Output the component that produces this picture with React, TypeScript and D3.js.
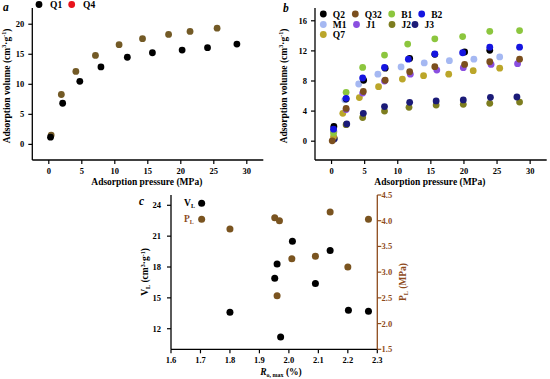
import React from "react";
import * as d3 from "d3";

// ---------- Panel a data ----------
const aQ1P = [0.26, 2.1, 4.7, 7.9, 11.9, 15.7, 20.2, 24.05, 28.5];
const aQ1V = [1.2, 6.85, 10.5, 12.9, 14.5, 15.25, 15.7, 16.1, 16.7];
const aQ4P = [0.36, 1.9, 4.1, 7.07, 10.65, 14.2, 18.15, 21.4, 25.5];
const aQ4V = [1.55, 8.3, 12.15, 14.8, 16.6, 17.6, 18.3, 18.8, 19.35];
const aXTicks = [0, 5, 10, 15, 20, 25, 30];
const aYTicks = [0, 5, 10, 15, 20];

// ---------- Panel b data ----------
const bNames = ["J2", "J3", "Q7", "M1", "J1", "Q32", "B1", "Q2", "B2"];
const bJ2P = [0.4, 2.2, 4.7, 8.0, 11.7, 15.8, 19.9, 23.9, 28.4];
const bJ2V = [0.4, 2.2, 3.15, 4.0, 4.5, 4.8, 4.9, 5.03, 5.2];
const bJ3P = [0.4, 2.3, 4.8, 8.0, 11.8, 15.8, 19.9, 24.0, 28.0];
const bJ3V = [0.3, 2.3, 3.7, 4.6, 5.17, 5.35, 5.48, 5.83, 5.87];
const bQ7P = [0.3, 1.7, 4.2, 7.1, 10.7, 13.9, 17.7, 21.4, 25.4];
const bQ7V = [0.6, 3.7, 5.8, 7.25, 8.26, 8.7, 8.9, 9.37, 9.7];
const bM1P = [0.3, 2.0, 4.1, 7.0, 10.5, 14.0, 17.8, 21.5, 25.4];
const bM1V = [1.75, 5.5, 7.6, 8.9, 9.87, 10.4, 10.7, 10.9, 11.2];
const bJ1P = [0.35, 2.2, 4.7, 8.0, 11.9, 15.9, 19.9, 24.1, 28.1];
const bJ1V = [1.3, 4.2, 6.4, 8.0, 8.9, 9.45, 9.77, 10.2, 10.3];
const bQ32P = [0.1, 2.2, 4.8, 8.1, 11.8, 15.6, 20.1, 23.9, 28.4];
const bQ32V = [0.05, 4.35, 6.6, 8.1, 9.23, 9.9, 10.2, 10.56, 10.9];
const bB1P = [0.3, 2.2, 4.7, 8.0, 11.5, 15.6, 19.8, 23.9, 28.4];
const bB1V = [1.1, 6.5, 9.8, 11.45, 12.9, 13.6, 13.9, 14.6, 14.7];
const bQ2P = [0.35, 2.2, 4.85, 8.1, 11.8, 15.6, 20.1, 23.9];
const bQ2V = [1.95, 5.6, 8.1, 9.7, 11.0, 11.55, 11.85, 12.07];
const bB2P = [0.3, 2.2, 4.7, 8.0, 11.6, 15.6, 19.8, 23.9, 28.4];
const bB2V = [1.6, 5.7, 8.4, 9.8, 10.9, 11.6, 11.75, 12.5, 12.5];
const bXTicks = [0, 5, 10, 15, 20, 25, 30];
const bYTicks = [0, 4, 8, 12, 16];

// ---------- Panel c data ----------
const cRo = [1.704, 1.8, 1.952, 1.96, 1.972, 2.012, 2.09, 2.14, 2.202, 2.27];
const cVL = [24.2, 13.6, 16.9, 18.3, 11.2, 20.5, 16.4, 19.6, 13.8, 13.7];
const cRoP = [1.704, 1.8, 1.952, 1.96, 1.968, 2.01, 2.09, 2.14, 2.2, 2.27];
const cPL = [4.03, 3.84, 4.06, 2.54, 4.0, 3.26, 3.31, 4.17, 3.1, 4.03];
const cXTicks = [1.6, 1.7, 1.8, 1.9, 2.0, 2.1, 2.2, 2.3];
const cYLTicks = [12, 15, 18, 21, 24];
const cYRTicks = [1.5, 2.0, 2.5, 3.0, 3.5, 4.0, 4.5];

const FONT = "'Liberation Serif', 'Times New Roman', serif";
const BROWN_A = "#735a26";
const BROWN_C = "#7a5420";
const AXIS_R = "#8e4b1c";
const TICK_FS = 8.5;
const TITLE_FS = 9.5;
const LEG_FS = 9.5;

const bColors: Record<string, string> = {
  Q2: "#000000",
  Q32: "#7b4f1e",
  B1: "#8cc63e",
  B2: "#1515e0",
  M1: "#a5b8f2",
  J1: "#8a4fe0",
  J2: "#7d7d1f",
  J3: "#1b1b78",
  Q7: "#bba62a",
};
const bSeries: Record<string, [number[], number[]]> = {
  J2: [bJ2P, bJ2V],
  J3: [bJ3P, bJ3V],
  Q7: [bQ7P, bQ7V],
  M1: [bM1P, bM1V],
  J1: [bJ1P, bJ1V],
  Q32: [bQ32P, bQ32V],
  B1: [bB1P, bB1V],
  Q2: [bQ2P, bQ2V],
  B2: [bB2P, bB2V],
};
const bLegend = [
  { name: "Q2", x: 323.3, y: 14 },
  { name: "Q32", x: 355.3, y: 14 },
  { name: "B1", x: 391.7, y: 14 },
  { name: "B2", x: 421.7, y: 14 },
  { name: "M1", x: 323.3, y: 24.5 },
  { name: "J1", x: 356.5, y: 24.5 },
  { name: "J2", x: 392, y: 24.5 },
  { name: "J3", x: 415, y: 24.5 },
  { name: "Q7", x: 323.3, y: 34.5 },
];

const VolLabel = ({ x, y }: { x: number; y: number }) => (
  <text
    transform={`translate(${x},${y}) rotate(-90)`}
    textAnchor="middle"
    fontFamily={FONT}
    fontWeight="bold"
    fontSize={TITLE_FS}
  >
    Adsorption volume (cm
    <tspan dy={-3.5} fontSize={6}>3</tspan>
    <tspan dy={3.5}>·g</tspan>
    <tspan dy={-3.5} fontSize={6}>-1</tspan>
    <tspan dy={3.5}>)</tspan>
  </text>
);

function IsoPanel(props: {
  x: d3.ScaleLinear<number, number>;
  y: d3.ScaleLinear<number, number>;
  xTicks: number[];
  yTicks: number[];
}) {
  const { x, y, xTicks, yTicks } = props;
  const [x0, x1] = x.range();
  const [y0, y1] = y.range();
  return (
    <g fontFamily={FONT} fontWeight="bold" fontSize={TICK_FS}>
      <line x1={x0} x2={x0} y1={y0} y2={y1} stroke="#000" strokeWidth={1.3} />
      <line x1={x0} x2={x1} y1={y0} y2={y0} stroke="#000" strokeWidth={1.3} />
      {yTicks.map((t) => (
        <g key={"y" + t}>
          <line x1={x0 - 4} x2={x0} y1={y(t)} y2={y(t)} stroke="#000" strokeWidth={1.2} />
          <text x={x0 - 8} y={y(t) + 3} textAnchor="end">
            {t}
          </text>
        </g>
      ))}
      {xTicks.map((t) => (
        <g key={"x" + t}>
          <line x1={x(t)} x2={x(t)} y1={y0} y2={y0 + 4} stroke="#000" strokeWidth={1.2} />
          <text x={x(t)} y={y0 + 13.5} textAnchor="middle">
            {t}
          </text>
        </g>
      ))}
      <text x={(x0 + x1) / 2 - 1} y={y0 + 25} textAnchor="middle" fontSize={TITLE_FS}>
        Adsorption pressure (MPa)
      </text>
    </g>
  );
}

export default function App() {
  // panel a scales
  const ax = d3.scaleLinear().domain([-2.5, 32.5]).range([32.3, 263.3]);
  const ay = d3.scaleLinear().domain([-2.6, 22.7]).range([160, 8]);
  // panel b scales
  const bx = d3.scaleLinear().domain([-2.5, 32.5]).range([315, 546.7]);
  const by = d3.scaleLinear().domain([-2.5, 17.7]).range([160, 8]);
  // panel c scales
  const cx = d3.scaleLinear().domain([1.6, 2.3]).range([171, 377.3]);
  const cyL = d3.scaleLinear().domain([10, 25]).range([349.3, 195]);
  const cyR = d3.scaleLinear().domain([1.5, 4.5]).range([349.3, 195]);

  const r = 3.4;

  return (
    <svg
      width={550}
      height={379}
      viewBox="0 0 550 379"
      style={{ position: "absolute", left: 0, top: 0, background: "#fff" }}
    >
      <rect width={550} height={379} fill="#fff" />

      {/* ---------- Panel a ---------- */}
      <text x={3} y={11} fontFamily={FONT} fontWeight="bold" fontStyle="italic" fontSize={11.5}>
        a
      </text>
      <IsoPanel x={ax} y={ay} xTicks={aXTicks} yTicks={aYTicks} />
      <VolLabel x={9.5} y={86} />
      {aQ4P.map((p, i) => (
        <circle key={"a4" + i} cx={ax(p)} cy={ay(aQ4V[i])} r={r} fill={BROWN_A} />
      ))}
      {aQ1P.map((p, i) => (
        <circle key={"a1" + i} cx={ax(p)} cy={ay(aQ1V[i])} r={r} fill="#000" />
      ))}
      <g fontFamily={FONT} fontWeight="bold" fontSize={LEG_FS}>
        <circle cx={39} cy={4.5} r={r} fill="#000" />
        <text x={50} y={8}>Q1</text>
        <circle cx={71.7} cy={4.5} r={r} fill="#e8141c" />
        <text x={83} y={8}>Q4</text>
      </g>

      {/* ---------- Panel b ---------- */}
      <text x={283} y={12} fontFamily={FONT} fontWeight="bold" fontStyle="italic" fontSize={11.5}>
        b
      </text>
      <IsoPanel x={bx} y={by} xTicks={bXTicks} yTicks={bYTicks} />
      <VolLabel x={286.5} y={86} />
      {bNames.map((n) =>
        bSeries[n][0].map((p, i) => (
          <circle
            key={n + i}
            cx={bx(p)}
            cy={by(bSeries[n][1][i])}
            r={r}
            fill={bColors[n]}
          />
        ))
      )}
      <g fontFamily={FONT} fontWeight="bold" fontSize={LEG_FS}>
        {bLegend.map((l) => (
          <g key={"lg" + l.name}>
            <circle cx={l.x} cy={l.y} r={r} fill={bColors[l.name]} />
            <text x={l.x + 9.5} y={l.y + 3.5}>
              {l.name}
            </text>
          </g>
        ))}
      </g>

      {/* ---------- Panel c ---------- */}
      <g fontFamily={FONT} fontWeight="bold" fontSize={TICK_FS}>
        <text x={139} y={205} fontStyle="italic" fontSize={11.5}>
          c
        </text>
        <line x1={171} x2={171} y1={349.3} y2={195} stroke="#000" strokeWidth={1.3} />
        <line x1={171} x2={377.3} y1={349.3} y2={349.3} stroke="#000" strokeWidth={1.3} />
        <line x1={377.3} x2={377.3} y1={349.3} y2={195} stroke={AXIS_R} strokeWidth={1.3} />
        {cXTicks.map((t) => (
          <g key={"cx" + t}>
            <line x1={cx(t)} x2={cx(t)} y1={349.3} y2={353.3} stroke="#000" strokeWidth={1.2} />
            <text x={cx(t)} y={363} textAnchor="middle">
              {t.toFixed(1)}
            </text>
          </g>
        ))}
        {cYLTicks.map((t) => (
          <g key={"cyl" + t}>
            <line x1={167} x2={171} y1={cyL(t)} y2={cyL(t)} stroke="#000" strokeWidth={1.2} />
            <text x={161} y={cyL(t) + 3} textAnchor="end">
              {t}
            </text>
          </g>
        ))}
        {cYRTicks.map((t) => (
          <g key={"cyr" + t}>
            <line x1={377.3} x2={381.3} y1={cyR(t)} y2={cyR(t)} stroke={AXIS_R} strokeWidth={1.2} />
            <text x={381.5} y={cyR(t) + 3} fill={AXIS_R}>
              {t.toFixed(1)}
            </text>
          </g>
        ))}
        <text
          transform="translate(148,272) rotate(-90)"
          textAnchor="middle"
          fontSize={TITLE_FS}
        >
          V
          <tspan dy={2} fontSize={6}>L</tspan>
          <tspan dy={-2}> (cm</tspan>
          <tspan dy={-3.5} fontSize={6}>3</tspan>
          <tspan dy={3.5}>·g</tspan>
          <tspan dy={-3.5} fontSize={6}>-1</tspan>
          <tspan dy={3.5}>)</tspan>
        </text>
        <text
          transform="translate(406,282) rotate(-90)"
          textAnchor="middle"
          fontSize={TITLE_FS}
          fill={AXIS_R}
        >
          P
          <tspan dy={2} fontSize={6}>L</tspan>
          <tspan dy={-2}> (MPa)</tspan>
        </text>
        <text x={281} y={375} textAnchor="middle" fontSize={TITLE_FS}>
          <tspan fontStyle="italic">R</tspan>
          <tspan dy={2} fontSize={6}>o, max</tspan>
          <tspan dy={-2}> (%)</tspan>
        </text>
        <text x={184} y={206} fontSize={LEG_FS}>
          V<tspan dy={2} fontSize={6}>L</tspan>
        </text>
        <text x={184} y={222} fontSize={LEG_FS} fill={AXIS_R}>
          P<tspan dy={2} fontSize={6}>L</tspan>
        </text>
      </g>
      {cRoP.map((v, i) => (
        <circle key={"cp" + i} cx={cx(v)} cy={cyR(cPL[i])} r={3.5} fill={BROWN_C} />
      ))}
      {cRo.map((v, i) => (
        <circle key={"cv" + i} cx={cx(v)} cy={cyL(cVL[i])} r={3.5} fill="#000" />
      ))}
    </svg>
  );
}
